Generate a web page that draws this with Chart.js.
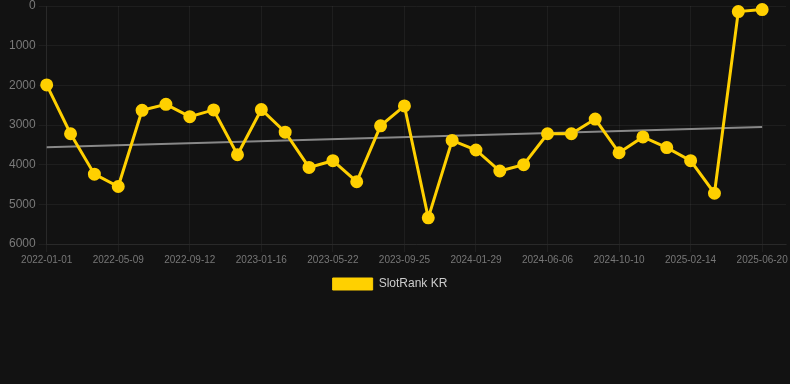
<!DOCTYPE html>
<html>
<head>
<meta charset="utf-8">
<script src="https://cdn.jsdelivr.net/npm/chart.js@4"></script>
<style>
  html, body { margin: 0; padding: 0; background: #121212; }
  #wrap { position: relative; width: 790px; height: 300px; }
</style>
</head>
<body>
<div id="wrap"><canvas id="c"></canvas></div>
<script>
const dateLabels = [
  '2022-01-01','2022-02-12','2022-03-26','2022-05-09','2022-06-20','2022-08-01',
  '2022-09-12','2022-10-24','2022-12-05','2023-01-16','2023-02-27','2023-04-10',
  '2023-05-22','2023-07-03','2023-08-14','2023-09-25','2023-11-06','2023-12-18',
  '2024-01-29','2024-03-11','2024-04-22','2024-06-06','2024-07-18','2024-08-29',
  '2024-10-10','2024-11-21','2025-01-02','2025-02-14','2025-03-28','2025-05-09',
  '2025-06-20','2025-08-01'
];
const rankValues = [
  1990, 3220, 4240, 4550, 2630, 2480, 2790, 2620, 3750, 2610, 3180, 4070,
  3900, 4430, 3020, 2520, 5340, 3390, 3630, 4160, 4000, 3220, 3220, 2850,
  3700, 3300, 3570, 3900, 4720, 140, 90, null
];
const trendValues = [
  3560, null, null, null, null, null, null, null, null, null, null, null,
  null, null, null, null, null, null, null, null, null, null, null, null,
  null, null, null, null, null, null, 3050, null
];
const yTicks = [0, 1000, 2000, 3000, 4000, 5000, 6000];

const legendShift = {
  id: 'legendShift',
  afterLayout(chart) {
    if (chart.legend) { chart.legend.right -= 16; }
  }
};

new Chart(document.getElementById('c'), {
  type: 'line',
  data: {
    labels: dateLabels,
    datasets: [
      {
        label: 'SlotRank KR',
        data: rankValues,
        borderColor: '#FFD000',
        backgroundColor: '#FFD000',
        borderWidth: 3,
        pointRadius: 5,
        pointHoverRadius: 5,
        pointBackgroundColor: '#FFD000',
        pointBorderColor: '#FFD000',
        tension: 0,
        clip: false,
        order: 1
      },
      {
        label: 'trend',
        data: trendValues,
        borderColor: 'rgba(150,150,150,0.9)',
        borderWidth: 2,
        pointRadius: 0,
        spanGaps: true,
        order: 2
      }
    ]
  },
  plugins: [legendShift],
  options: {
    responsive: true,
    maintainAspectRatio: false,
    animation: false,
    layout: { autoPadding: false, padding: { left: 6, right: 0, top: 0, bottom: 0 } },
    plugins: {
      tooltip: { enabled: false },
      legend: {
        position: 'bottom',
        labels: {
          color: '#cccccc',
          font: { family: 'Liberation Sans, Arial, sans-serif', size: 12 },
          boxWidth: 40,
          boxHeight: 12,
          filter: (item) => item.text !== 'trend',
          generateLabels: (chart) => Chart.defaults.plugins.legend.labels.generateLabels(chart)
            .map(it => Object.assign(it, { lineWidth: 1 }))
        }
      }
    },
    scales: {
      x: {
        type: 'category',
        offset: false,
        afterFit: (scale) => { scale.paddingRight = 4; },
        grid: { color: 'rgba(255,255,255,0.05)', drawTicks: true, tickLength: 8 },
        border: { color: 'rgba(255,255,255,0.05)' },
        ticks: {
          color: '#777777',
          font: { family: 'Liberation Sans, Arial, sans-serif', size: 10 },
          padding: 2,
          maxRotation: 0,
          autoSkip: true,
          maxTicksLimit: 11
        }
      },
      y: {
        reverse: true,
        min: 0,
        max: 6000,
        afterBuildTicks: (scale) => { scale.ticks = yTicks.map(v => ({ value: v })); },
        afterFit: (scale) => { scale.paddingTop = 6; scale.paddingBottom = 0; },
        grid: { color: 'rgba(255,255,255,0.05)', drawTicks: true, tickLength: 8 },
        border: { color: 'rgba(255,255,255,0.05)' },
        ticks: {
          color: '#7a7a7a',
          font: { family: 'Liberation Sans, Arial, sans-serif', size: 12, lineHeight: 1 },
          padding: 3,
          callback: (v) => String(v)
        }
      }
    }
  }
});
</script>
</body>
</html>
